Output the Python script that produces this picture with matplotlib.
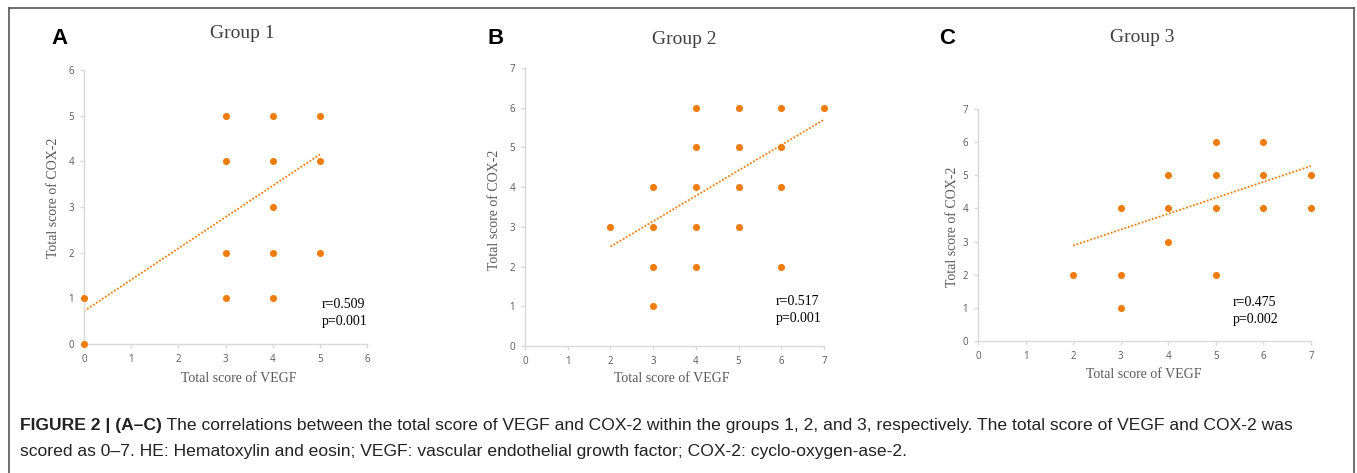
import matplotlib
matplotlib.use("Agg")
import matplotlib.pyplot as plt
from matplotlib.lines import Line2D

# ---- data ----
g1_vegf = [0, 0, 3, 4, 5, 3, 4, 5, 4, 3, 4, 5, 3, 4]
g1_cox2 = [0, 1, 5, 5, 5, 4, 4, 4, 3, 2, 2, 2, 1, 1]
g1_trend = (0.686, 0.72)   # slope, intercept
g1_trend_x = [0, 5]

g2_vegf = [2, 3, 3, 3, 3, 4, 4, 4, 4, 4, 5, 5, 5, 5, 6, 6, 6, 6, 7]
g2_cox2 = [3, 4, 3, 2, 1, 6, 5, 4, 3, 2, 6, 5, 4, 3, 6, 5, 4, 2, 6]
g2_trend = (0.64, 1.22)
g2_trend_x = [2, 7]

g3_vegf = [2, 3, 3, 3, 4, 4, 4, 5, 5, 5, 5, 6, 6, 6, 7, 7]
g3_cox2 = [2, 4, 2, 1, 5, 4, 3, 6, 5, 4, 2, 6, 5, 4, 5, 4]
g3_trend = (0.48, 1.92)
g3_trend_x = [2, 7]

titles = ["Group 1", "Group 2", "Group 3"]
letters = ["A", "B", "C"]
stats = ["r=0.509\np=0.001", "r=0.517\np=0.001", "r=0.475\np=0.002"]
xlabel = "Total score of VEGF"
ylabel = "Total score of COX-2"
caption_bold = "FIGURE 2 | (A\u2013C)"
caption_rest = (" The correlations between the total score of VEGF and COX-2 within the groups 1, 2, and 3, "
                "respectively. The total score of VEGF and COX-2 was")
caption_line2 = "scored as 0\u20137. HE: Hematoxylin and eosin; VEGF: vascular endothelial growth factor; COX-2: cyclo-oxygen-ase-2."

W, H = 1357, 473
fig = plt.figure(figsize=(W / 100, H / 100), dpi=100)

ORANGE = "#EE7D0E"
GRAY_TXT = "#595959"
SPINE = "#D9D9D9"

def px_axes(x0, x1, y0, y1):
    return fig.add_axes([x0 / W, (H - y0) / H, (x1 - x0) / W, (y0 - y1) / H])

panels = [
    dict(box=(84, 367, 344, 70), xmax=6, ymax=6, x=g1_vegf, y=g1_cox2, tr=g1_trend, trx=g1_trend_x,
         title_xy=(242, 33), letter_xy=(59, 38), stat_xy=(322, 298), xl_xy=(239, 378), yl_xy=(54, 198)),
    dict(box=(525, 824, 346, 68), xmax=7, ymax=7, x=g2_vegf, y=g2_cox2, tr=g2_trend, trx=g2_trend_x,
         title_xy=(684, 40), letter_xy=(496, 38), stat_xy=(776, 295), xl_xy=(672, 379), yl_xy=(494, 210)),
    dict(box=(978, 1311, 341, 109), xmax=7, ymax=7, x=g3_vegf, y=g3_cox2, tr=g3_trend, trx=g3_trend_x,
         title_xy=(1142, 37), letter_xy=(947, 38), stat_xy=(1233, 296), xl_xy=(1144, 374), yl_xy=(952, 227)),
]

serif = ["Liberation Serif", "DejaVu Serif"]
sans = ["Liberation Sans", "DejaVu Sans"]

for i, p in enumerate(panels):
    ax = px_axes(*p["box"])
    ax.set_xlim(0, p["xmax"])
    ax.set_ylim(0, p["ymax"])
    ax.set_xticks(range(p["xmax"] + 1))
    ax.set_yticks(range(p["ymax"] + 1))
    for s in ["top", "right"]:
        ax.spines[s].set_visible(False)
    for s in ["left", "bottom"]:
        ax.spines[s].set_color(SPINE)
        ax.spines[s].set_linewidth(1.0)
    ax.tick_params(axis="both", colors=SPINE, labelcolor=GRAY_TXT, labelsize=7, length=3, width=1, pad=4)
    for lab in ax.get_xticklabels() + ax.get_yticklabels():
        lab.set_family(["Open Sans", "DejaVu Sans"])
    ax.scatter(p["x"], p["y"], s=26, color=ORANGE, zorder=3, clip_on=False, linewidths=0)
    slope, icpt = p["tr"]
    tx = p["trx"]
    ax.plot(tx, [slope * v + icpt for v in tx], linestyle=(0, (1, 1)), color=ORANGE, lw=1.3, zorder=2)
    ax.patch.set_alpha(0)

    fig.text(p["title_xy"][0] / W, 1 - p["title_xy"][1] / H, titles[i], family=serif, fontsize=14,
             color="#404040", ha="center", va="center")
    fig.text(p["letter_xy"][0] / W, 1 - p["letter_xy"][1] / H, letters[i], family=sans, fontsize=16,
             fontweight="bold", color="black", ha="center", va="center")
    fig.text(p["stat_xy"][0] / W, 1 - p["stat_xy"][1] / H, stats[i], family=serif, fontsize=10,
             color="black", ha="left", va="top", linespacing=1.4)
    fig.text(p["xl_xy"][0] / W, 1 - p["xl_xy"][1] / H, xlabel, family=serif, fontsize=10,
             color=GRAY_TXT, ha="center", va="center")
    fig.text(p["yl_xy"][0] / W, 1 - p["yl_xy"][1] / H, ylabel, family=serif, fontsize=10,
             color=GRAY_TXT, ha="center", va="center", rotation=90)

# caption
CAP_FS = 12.6
t1 = fig.text(20 / W, 1 - 425 / H, caption_bold, family=sans, fontsize=CAP_FS, fontweight="bold",
              ha="left", va="center", color="#222222")
fig.canvas.draw()
bb = t1.get_window_extent()
fig.text(bb.x1 / W, 1 - 425 / H, caption_rest, family=sans, fontsize=CAP_FS, ha="left", va="center", color="#222222")
fig.text(20 / W, 1 - 451 / H, caption_line2, family=sans, fontsize=CAP_FS, ha="left", va="center", color="#222222")

# frame around the figure
fig.add_artist(Line2D([9 / W, 9 / W], [0, 1 - 8 / H], transform=fig.transFigure, color="#555555", lw=1.2))
fig.add_artist(Line2D([1354 / W, 1354 / W], [0, 1 - 8 / H], transform=fig.transFigure, color="#555555", lw=1.2))
fig.add_artist(Line2D([9 / W, 1354 / W], [1 - 8 / H, 1 - 8 / H], transform=fig.transFigure, color="#555555", lw=1.2))

fig.savefig("out.png", dpi=100)
